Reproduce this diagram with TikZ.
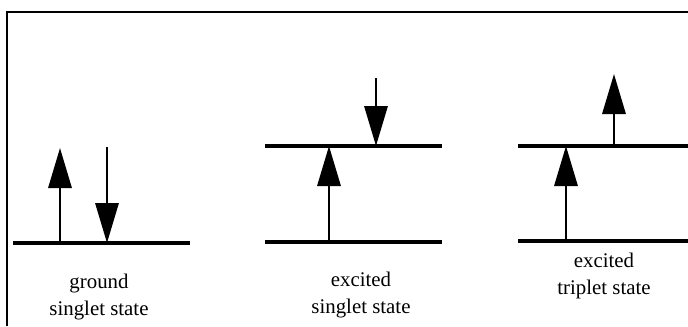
\documentclass[tikz,border=0pt]{standalone}
\usepackage{fontspec}
\setmainfont{Liberation Serif}
\usetikzlibrary{arrows.meta}

\begin{document}
\begin{tikzpicture}[x=0.03cm,y=-0.03cm]
\tikzset{
  level/.style={line width=2.6pt},
  spin/.style={-{Triangle[length=1.2cm,width=0.7cm]},line width=1.8pt},
  frameline/.style={line width=1.6pt},
  statelabel/.style={align=center,font=\fontsize{17.8}{23}\selectfont}
}
\useasboundingbox (0,0) rectangle (688,326);
\draw[frameline] (7,326) -- (7,12) -- (688,12);
% ground singlet
\coordinate (g_a) at (13,243);
\coordinate (g_b) at (190,243);
\coordinate (g_up0) at (60,243);
\coordinate (g_up1) at (60,148);
\coordinate (g_dn0) at (107,147);
\coordinate (g_dn1) at (107,243);
\draw[level] (g_a) -- (g_b);
\draw[spin] (g_up0) -- (g_up1);
\draw[spin] (g_dn0) -- (g_dn1);
\node[statelabel] (l_g) at (99,297) {ground\\singlet state};
% excited singlet
\coordinate (s_lo_a) at (265,242);
\coordinate (s_lo_b) at (442,242);
\coordinate (s_hi_a) at (265,146);
\coordinate (s_hi_b) at (442,146);
\coordinate (s_up0) at (329,242);
\coordinate (s_up1) at (329,146);
\coordinate (s_dn0) at (376,78);
\coordinate (s_dn1) at (376,146);
\draw[level] (s_lo_a) -- (s_lo_b);
\draw[level] (s_hi_a) -- (s_hi_b);
\draw[spin] (s_up0) -- (s_up1);
\draw[spin] (s_dn0) -- (s_dn1);
\node[statelabel] (l_s) at (361,295) {excited\\singlet state};
% excited triplet
\coordinate (t_lo_a) at (518,241);
\coordinate (t_lo_b) at (688,241);
\coordinate (t_hi_a) at (518,146);
\coordinate (t_hi_b) at (688,146);
\coordinate (t_up0) at (566,241);
\coordinate (t_up1) at (566,146);
\coordinate (t_up2) at (614,146);
\coordinate (t_up3) at (614,74);
\draw[level] (t_lo_a) -- (t_lo_b);
\draw[level] (t_hi_a) -- (t_hi_b);
\draw[spin] (t_up0) -- (t_up1);
\draw[spin] (t_up2) -- (t_up3);
\node[statelabel] (l_t) at (604,276) {excited\\triplet state};
\end{tikzpicture}
\end{document}
